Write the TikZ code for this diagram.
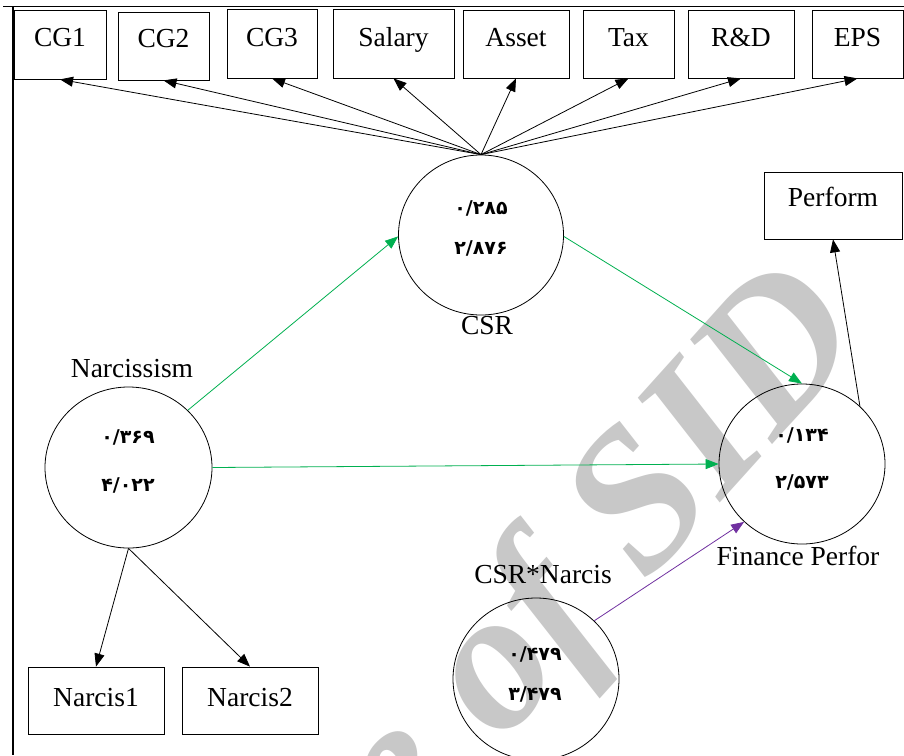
\documentclass[tikz,border=0pt]{standalone}
\usepackage{fontspec}
\setmainfont{Liberation Serif}
\newfontfamily\fadigits{DejaVu Sans}
\usetikzlibrary{arrows.meta,shapes.geometric}
\definecolor{arrgreen}{RGB}{0,176,80}
\definecolor{arrpurple}{RGB}{112,48,160}
\definecolor{wmgray}{RGB}{200,200,200}
\begin{document}
\begin{tikzpicture}[x=1pt,y=-1pt,
  lbl/.style={font=\fontsize{27.5}{30}\selectfont, inner sep=0pt, anchor=base},
  num/.style={font=\fadigits\bfseries\fontsize{19}{21}\selectfont, inner sep=0pt},
  box/.style={draw, line width=0.8pt, inner sep=0pt},
  latent/.style={draw, ellipse, line width=0.8pt, inner sep=0pt},
  arr/.style={line width=0.8pt, -{Triangle[length=13pt,width=10pt]}},
  wmark/.style={font=\fontsize{200}{200}\selectfont\bfseries\itshape, text=wmgray, inner sep=0pt, rotate=48, anchor=base east},
]
\useasboundingbox (0,0) rectangle (904,755);
\clip (0,0) rectangle (904,755);
\fill[white] (0,0) rectangle (904,755);

% watermark
\node[wmark] (wm) at (870,336) {Archive of SID};

% frame
\draw[line width=0.7pt, double, double distance=0.6pt] (3,5.5) -- (904,5.5);
\draw[line width=1.6pt] (13,7) -- (13,755);

% indicator boxes
\node[box, minimum width=92pt, minimum height=69pt] (cg1) at (60,44.5) {};
\node[box, minimum width=91pt, minimum height=68pt] (cg2) at (163.5,46) {};
\node[box, minimum width=90pt, minimum height=69pt] (cg3) at (272,43.5) {};
\node[box, minimum width=121pt, minimum height=69pt] (salary) at (393.5,43.5) {};
\node[box, minimum width=106pt, minimum height=68pt] (asset) at (516,44) {};
\node[box, minimum width=91pt, minimum height=68pt] (tax) at (628.5,44) {};
\node[box, minimum width=106pt, minimum height=68pt] (rd) at (741,44) {};
\node[box, minimum width=91pt, minimum height=68pt] (eps) at (857.5,44) {};
\node[box, minimum width=138pt, minimum height=67pt] (perform) at (833,205.5) {};
\node[box, minimum width=136pt, minimum height=67pt] (narcis1) at (96,700.5) {};
\node[box, minimum width=136pt, minimum height=67pt] (narcis2) at (250,700.5) {};

\node[lbl] (tcg1) at (60,46.5) {CG1};
\node[lbl] (tcg2) at (163.5,47.5) {CG2};
\node[lbl] (tcg3) at (272,46) {CG3};
\node[lbl] (tsalary) at (393.5,46) {Salary};
\node[lbl] (tasset) at (516,46) {Asset};
\node[lbl] (ttax) at (628.5,46) {Tax};
\node[lbl] (trd) at (741,46) {R\&D};
\node[lbl] (teps) at (857.5,46) {EPS};
\node[lbl] (tperform) at (833,206) {Perform};
\node[lbl] (tnarcis1) at (96,706) {Narcis1};
\node[lbl] (tnarcis2) at (250,706) {Narcis2};

% latent variables
\node[latent, minimum width=165pt, minimum height=160pt] (csr) at (481,235) {};
\node[latent, minimum width=167pt, minimum height=161pt] (narc) at (128.5,467.5) {};
\node[latent, minimum width=166pt, minimum height=160pt] (fin) at (802,464) {};
\node[latent, minimum width=166pt, minimum height=162pt] (csrn) at (536,679) {};

\node[lbl] (tcsr) at (487,334) {CSR};
\node[lbl] (tnarc) at (132,377) {Narcissism};
\node[lbl] (tfin) at (798,565) {Finance Perfor};
\node[lbl] (tcsrn) at (543,583) {CSR*Narcis};

\node[num] (csr1) at (481,208) {۰/۲۸۵};
\node[num] (csr2) at (481,248) {۲/۸۷۶};
\node[num] (narc1) at (128,437) {۰/۳۶۹};
\node[num] (narc2) at (128,485) {۴/۰۲۲};
\node[num] (fin1) at (802,435) {۰/۱۳۴};
\node[num] (fin2) at (802,482) {۲/۵۷۳};
\node[num] (csrn1) at (535,654) {۰/۴۷۹};
\node[num] (csrn2) at (535,694) {۳/۴۷۹};

% loadings
\foreach \b in {cg1,cg2,cg3,salary,asset,tax,rd,eps}
  \draw[arr] (csr.north) -- (\b.south);
\draw[arr] (narc.south) -- (narcis1.north);
\draw[arr] (narc.south) -- (narcis2.north);
\draw[arr] (fin.45) -- (perform.south);

% structural paths
\draw[arr, arrgreen] (narc.44) -- (csr.181);
\draw[arr, arrgreen] (narc.0) -- (fin.180);
\draw[arr, arrgreen] (csr.-1) -- (fin.north);
\draw[arr, arrpurple] (csrn.45) -- (fin.225);
\end{tikzpicture}
\end{document}
